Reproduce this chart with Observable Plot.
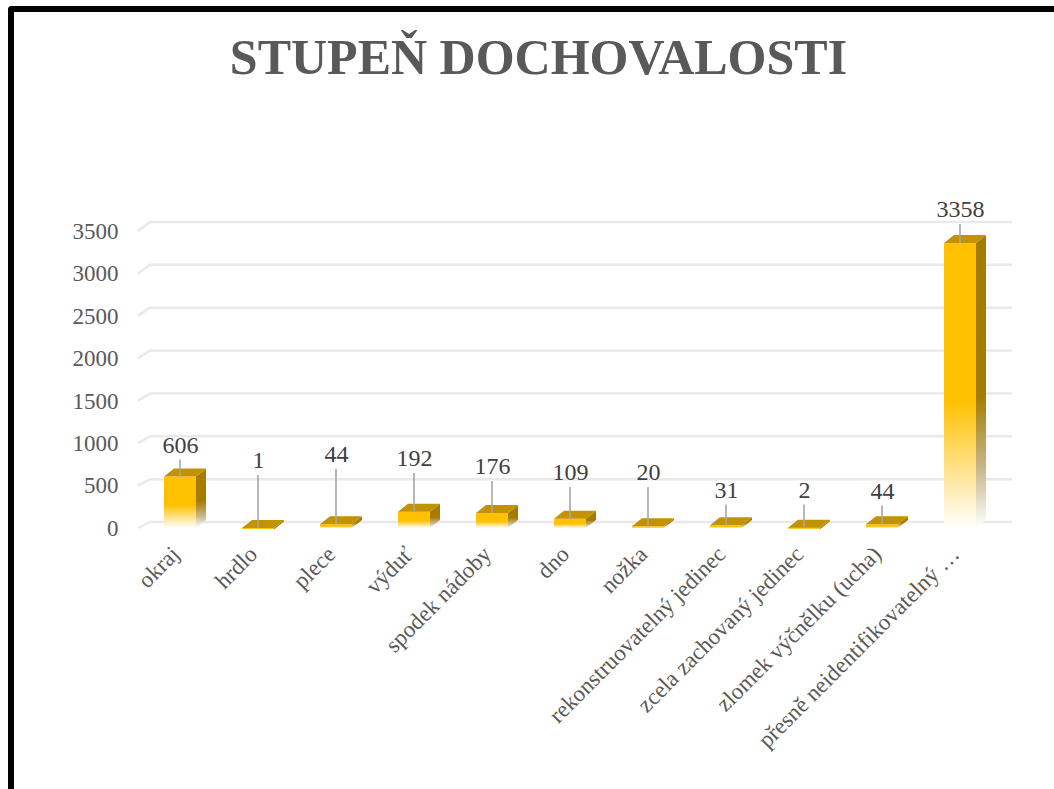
<!DOCTYPE html>
<html><head><meta charset="utf-8">
<script src="https://cdn.jsdelivr.net/npm/d3@7"></script>
<script src="https://cdn.jsdelivr.net/npm/@observablehq/plot@0.6"></script>
<style>
body{margin:0;background:#fff;}
#page{position:relative;width:1054px;height:789px;overflow:hidden;font-family:"Liberation Serif","Times New Roman",serif;}
#border{position:absolute;left:8px;top:6px;width:1100px;height:900px;border-left:6px solid #000;border-top:6px solid #000;border-top-left-radius:4px;}
#title{position:absolute;left:0;top:33px;width:1054px;padding-left:23px;box-sizing:border-box;text-align:center;font-weight:bold;font-size:50px;line-height:49px;color:#595959;white-space:nowrap;}
#chart{position:absolute;left:0;top:100px;}
</style></head>
<body>
<div id="page"><div id="border"></div><div id="title">STUPEŇ DOCHOVALOSTI</div><div id="chart"></div></div>
<script>
const categories = ["okraj","hrdlo","plece","výduť","spodek nádoby","dno","nožka","rekonstruovatelný jedinec","zcela zachovaný jedinec","zlomek výčnělku (ucha)","přesně neidentifikovatelný …"];
const values = [606, 1, 44, 192, 176, 109, 20, 31, 2, 44, 3358];
// where each value label sits (in data units)
const labelLevels = [984, 801, 872, 825, 731, 660, 660, 454, 454, 442, 3759];
const yTicks = [0, 500, 1000, 1500, 2000, 2500, 3000, 3500];

const rows = categories.map((c, i) => ({category: c, value: values[i], label: labelLevels[i]}));
const DX = 10, DY = 8;
const FONT = "'Liberation Serif', 'Times New Roman', serif";

function grid3d(index, scales, vals, dims) {
  const {y} = scales;
  const g = d3.create("svg:g").attr("fill", "none").attr("stroke", "#E9E9E9").attr("stroke-width", 2.5);
  const left = dims.marginLeft, right = dims.width - dims.marginRight;
  for (const t of yTicks) {
    const off = 6 + 3 * t / 3500;
    const yy = y(t);
    g.append("path").attr("d", `M${left - 2},${yy}L${left + 10},${yy - off}H${right + 12}`);
  }
  return g.node();
}

function bars3d(index, scales, vals, dims) {
  const {x, y} = scales;
  const g = d3.create("svg:g");
  const defs = g.append("defs");
  const gf = defs.append("linearGradient").attr("id", "gFront").attr("x1", 0).attr("y1", 0).attr("x2", 0).attr("y2", 1);
  [[0, "#FFC000"], [0.55, "#FFC000"], [0.8, "#FFE38F"], [1, "#FFFFFF"]].forEach(([o, c]) => gf.append("stop").attr("offset", o).attr("stop-color", c));
  const gs = defs.append("linearGradient").attr("id", "gSide").attr("x1", 0).attr("y1", 0).attr("x2", 0).attr("y2", 1);
  [[0, "#A67C00"], [0.55, "#A67C00"], [0.8, "#C9B88E"], [1, "#FFFFFF"]].forEach(([o, c]) => gs.append("stop").attr("offset", o).attr("stop-color", c));
  const bw = x.bandwidth();
  for (const d of rows) {
    const x0 = x(d.category), x1 = x0 + bw;
    const yt = y(d.value), yb = y(0);
    if (yb - yt > 0.5) {
      g.append("path").attr("fill", "url(#gSide)")
        .attr("d", `M${x1},${yt}L${x1 + DX},${yt - DY}V${yb - DY}L${x1},${yb}Z`);
      g.append("rect").attr("fill", "url(#gFront)")
        .attr("x", x0).attr("y", yt).attr("width", bw).attr("height", yb - yt);
    } else {
      g.append("path").attr("fill", "#A67C00")
        .attr("d", `M${x1},${yt}L${x1 + DX},${yt - DY}V${yt - DY + 1.5}L${x1},${yt + 1.5}Z`);
      g.append("rect").attr("fill", "#FFC000").attr("x", x0).attr("y", yt - 0.5).attr("width", bw).attr("height", 1.5);
    }
    g.append("path").attr("fill", "#C29200")
      .attr("d", `M${x0},${yt}L${x0 + DX},${yt - DY}H${x1 + DX}L${x1},${yt}Z`);
  }
  return g.node();
}

function leaders(index, scales) {
  const {x, y} = scales;
  const g = d3.create("svg:g").attr("stroke", "#A6A6A6").attr("stroke-width", 1.6);
  const bw = x.bandwidth();
  for (const d of rows) {
    const cx = x(d.category) + bw / 2;
    g.append("line").attr("x1", cx).attr("x2", cx).attr("y1", y(d.label) + 15).attr("y2", y(d.value));
  }
  return g.node();
}

const chart = Plot.plot({
  width: 1054,
  height: 689,
  marginTop: 131,
  marginBottom: 261,
  marginLeft: 140,
  marginRight: 54,
  style: {fontFamily: FONT, color: "#595959", background: "transparent", overflow: "visible"},
  x: {type: "band", domain: categories, paddingInner: 0.59, paddingOuter: 0.28, label: null},
  y: {domain: [0, 3500], label: null},
  marks: [
    grid3d,
    bars3d,
    leaders,
    Plot.text(rows, {x: "category", y: "label", text: d => String(d.value), fontSize: 24, fontFamily: FONT, fill: "#404040"}),
    Plot.axisY({ticks: yTicks, tickFormat: d => String(d), tickSize: 0, tickPadding: 22, fontSize: 23, fontFamily: FONT, label: null}),
    Plot.axisX({tickRotate: -45, tickSize: 0, tickPadding: 22, dx: -5, fontSize: 23, fontFamily: FONT, label: null})
  ]
});
document.getElementById("chart").appendChild(chart);
</script>
</body></html>
